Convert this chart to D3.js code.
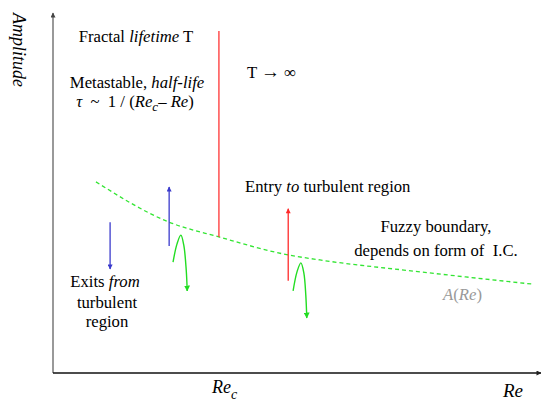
<!DOCTYPE html>
<html>
<head>
<meta charset="utf-8">
<style>
  body { margin: 0; background: #fff; }
  .lbl { font-size: 16.7px; fill: #000; }
  .it { font-style: italic; }
</style>
</head>
<body>
<svg width="541" height="403"></svg>
<script src="https://cdn.jsdelivr.net/npm/d3@7"></script>
<script>
// boundary A(Re), in arbitrary Re / amplitude units (0-100)
const boundaryRe  = [8.8, 23.8, 34.0, 48.2, 54.7, 75.2, 98.2];
const boundaryAmp = [53.1, 41.9, 37.8, 32.8, 31.4, 28.1, 24.7];

// vertical arrows: position, start amplitude, end amplitude
const arrowRe    = [11.7, 23.8, 48.2];
const arrowFrom  = [41.9, 35.3, 25.6];
const arrowTo    = [28.9, 51.7, 45.6];
const arrowKind  = ["exit", "exit", "entry"];

// the lifetime divider at Re_c
const dividerRe = 34.0;
const dividerAmp = [95, 37.8];

// green trajectories that cross the boundary and fall back
const traj1Re  = [24.6, 25.4, 26.2, 26.8, 27.3, 27.5];
const traj1Amp = [30.8, 35.8, 38.3, 35.5, 28.6, 22.8];
const traj2Re  = [49.2, 50.0, 50.8, 51.4, 51.8, 52.0];
const traj2Amp = [22.8, 28.1, 30.6, 27.8, 21.7, 15.3];

const svg = d3.select("svg");
const x = d3.scaleLinear().domain([0, 100]).range([53, 541]);
const y = d3.scaleLinear().domain([0, 100]).range([373, 13]);

const colors = { exit: "#3a3acc", entry: "#ff2a2a", traj: "#22dd22" };
const serif = "'Liberation Serif', 'Times New Roman', serif";

let defs = svg.append("defs");
function marker(id, color, w, h) {
  defs.append("marker")
    .attr("id", id)
    .attr("viewBox", "0 0 10 10")
    .attr("refX", 9).attr("refY", 5)
    .attr("markerUnits", "userSpaceOnUse")
    .attr("markerWidth", w).attr("markerHeight", h)
    .attr("orient", "auto")
    .append("path")
    .attr("d", "M0,0 L10,5 L0,10 Z")
    .attr("fill", color);
}
marker("m-exit", colors.exit, 6, 5);
marker("m-entry", colors.entry, 6, 5);
marker("m-traj", colors.traj, 6, 6);
marker("m-ax", "#222", 6, 5);
marker("m-ay", "#444", 6, 5);

// axes
svg.append("line")
  .attr("x1", x(0)).attr("x2", x(0))
  .attr("y1", y(0)).attr("y2", y(100))
  .attr("stroke", "#777").attr("stroke-width", 1.5)
  .attr("marker-end", "url(#m-ay)");
svg.append("line")
  .attr("x1", x(0)).attr("x2", x(100))
  .attr("y1", y(0)).attr("y2", y(0))
  .attr("stroke", "#111").attr("stroke-width", 1.5)
  .attr("marker-end", "url(#m-ax)");

// boundary
const line = d3.line().x(d => x(d[0])).y(d => y(d[1]));
svg.append("path")
  .datum(d3.zip(boundaryRe, boundaryAmp))
  .attr("d", line.curve(d3.curveMonotoneX))
  .attr("fill", "none")
  .attr("stroke", "#33e533")
  .attr("stroke-width", 1.3)
  .attr("stroke-dasharray", "4,3");

// divider
svg.append("line")
  .attr("x1", x(dividerRe)).attr("x2", x(dividerRe))
  .attr("y1", y(dividerAmp[0])).attr("y2", y(dividerAmp[1]))
  .attr("stroke", "#ff3333").attr("stroke-width", 1.3);

// arrows
svg.selectAll(".arr")
  .data(d3.range(arrowRe.length))
  .join("line")
  .attr("class", "arr")
  .attr("x1", i => x(arrowRe[i])).attr("x2", i => x(arrowRe[i]))
  .attr("y1", i => y(arrowFrom[i])).attr("y2", i => y(arrowTo[i]))
  .attr("stroke", i => colors[arrowKind[i]])
  .attr("stroke-width", 1.3)
  .attr("marker-end", i => "url(#m-" + arrowKind[i] + ")");

// trajectories
const tline = d3.line().x(d => x(d[0])).y(d => y(d[1])).curve(d3.curveCatmullRom);
[[traj1Re, traj1Amp], [traj2Re, traj2Amp]].forEach(t => {
  svg.append("path")
    .datum(d3.zip(t[0], t[1]))
    .attr("d", tline)
    .attr("fill", "none")
    .attr("stroke", colors.traj)
    .attr("stroke-width", 1.4)
    .attr("marker-end", "url(#m-traj)");
});

// text
function label(px, py, parts, opts = {}) {
  let t = svg.append("text")
    .attr("class", "lbl")
    .attr("font-family", serif)
    .style("font-family", serif)
    .attr("x", px).attr("y", py)
    .attr("text-anchor", opts.anchor || "start");
  if (opts.size) t.style("font-size", opts.size + "px");
  if (opts.fill) t.style("fill", opts.fill);
  parts.forEach(p => {
    let s = t.append("tspan").text(p.t);
    if (p.i) s.attr("class", "it");
    if (p.dy) s.attr("dy", p.dy);
    if (p.fs) s.style("font-size", p.fs + "px");
  });
  return t;
}

label(13, 13, [{ t: "Amplitude", i: true }], { size: 18 })
  .attr("transform", "rotate(90,13,13)");

label(136, 42, [{ t: "Fractal " }, { t: "lifetime", i: true }, { t: " T" }], { anchor: "middle" });
label(137, 88, [{ t: "Metastable, " }, { t: "half-life", i: true }], { anchor: "middle" });
label(135, 107, [
  { t: "τ", i: true }, { t: "  ~  1 / (" }, { t: "Re", i: true },
  { t: "c", i: true, dy: 4, fs: 13 }, { t: "– ", dy: -4 }, { t: "Re", i: true }, { t: ")" }
], { anchor: "middle" }).style("white-space", "pre");

label(247, 78, [{ t: "T " }, { t: "→", fs: 19 }, { t: " ∞" }]);
label(245, 192, [{ t: "Entry " }, { t: "to", i: true }, { t: " turbulent region" }]);
label(436, 232, [{ t: "Fuzzy boundary," }], { anchor: "middle" });
label(436, 256, [{ t: "depends on form of  I.C." }], { anchor: "middle" }).style("white-space", "pre");

label(105, 287, [{ t: "Exits " }, { t: "from", i: true }], { anchor: "middle" });
label(107, 308, [{ t: "turbulent" }], { anchor: "middle" });
label(107, 327, [{ t: "region" }], { anchor: "middle" });

label(443, 300, [{ t: "A", i: true }, { t: "(" }, { t: "Re", i: true }, { t: ")" }], { fill: "#999" });

label(503, 397, [{ t: "Re", i: true }], { size: 19 });
label(212, 393, [{ t: "Re", i: true }, { t: "c", i: true, dy: 6, fs: 14 }], { size: 18 });
</script>
</body>
</html>
